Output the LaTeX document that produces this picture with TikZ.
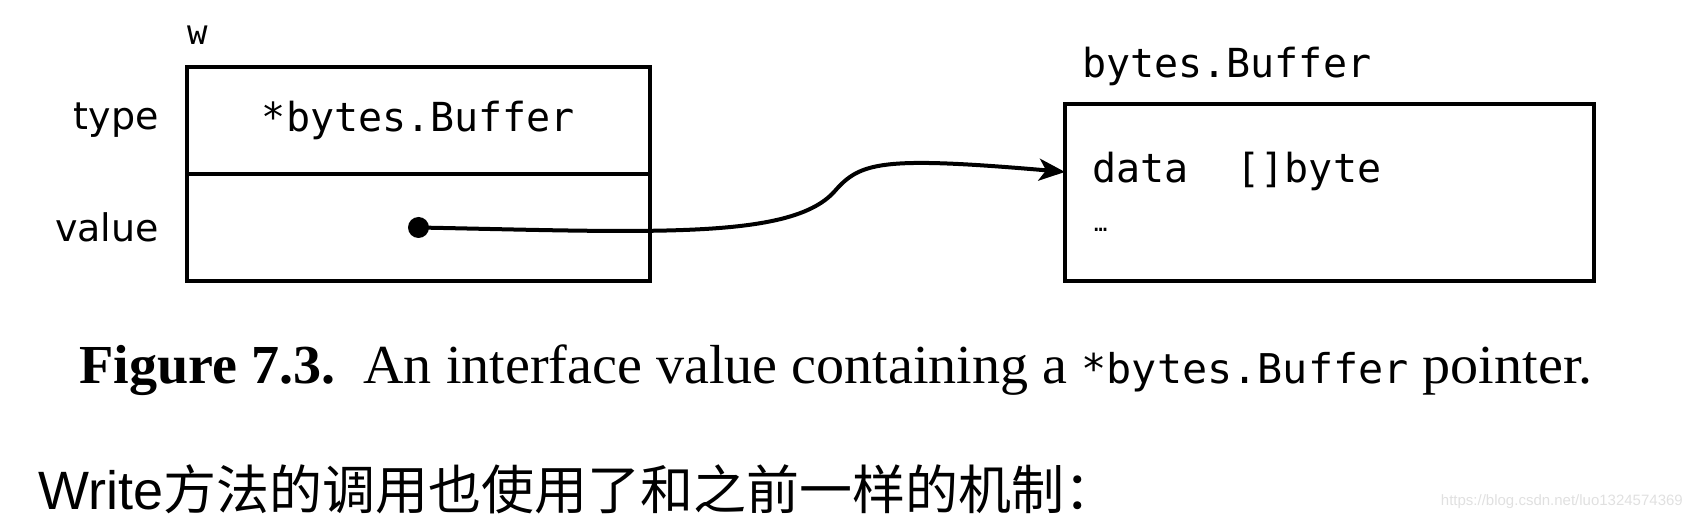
\documentclass[tikz,border=0pt]{standalone}
\usepackage{fontspec}
\setmainfont{Liberation Serif}
\setsansfont{DejaVu Sans}
\setmonofont{DejaVu Sans Mono}
\newfontfamily\cjkfont{Noto Sans CJK SC}
\newfontfamily\plainsans{Liberation Sans}
\usepackage{tikz}
\usetikzlibrary{arrows.meta, positioning, calc}

\begin{document}
\begin{tikzpicture}[
    x=1pt, y=-1pt,
    cell/.style={draw, rectangle, line width=4.5pt, outer sep=0pt, inner sep=0pt,
      minimum width=463pt, minimum height=107pt},
    field/.style={inner sep=0pt, font=\fontsize{40}{48}\selectfont\ttfamily},
    rowlabel/.style={inner sep=0pt, font=\fontsize{38}{46}\selectfont\sffamily},
    pointer/.style={line width=4pt, -{Stealth[length=26pt,width=22pt,inset=7pt]}},
    dot/.style={circle, fill, inner sep=0pt, minimum size=21pt}
]
\useasboundingbox (0,0) rectangle (1692,518);

% interface value w
\node[cell] (typecell) at (418.5,120.5) {\fontsize{40}{48}\selectfont\ttfamily *bytes.Buffer};
\node[cell, below=0pt of typecell] (valuecell) {};
\node[rowlabel, left=28pt of typecell] (typelbl) {type};
\node[rowlabel, left=28pt of valuecell] (valuelbl) {value};
\node[field, font=\fontsize{34}{40}\selectfont\ttfamily, anchor=base west]
  (wname) at ([yshift=22pt]typecell.north west) {w};
\node[dot] (dot) at (valuecell.center) {};

% the pointed-to buffer
\node[cell, minimum width=529pt, minimum height=177pt, anchor=north west] (buf) at (1065,104) {};
\node[field, anchor=base west] (bufname) at ([xshift=17pt,yshift=26pt]buf.north west) {bytes.Buffer};
\node[field, anchor=base west] (datafield) at (1092,183) {data\ \ []byte};
\node[field, anchor=base west] (more) at (1094,232) {\fontsize{22}{26}\selectfont\dots};
\coordinate (target) at (buf.west |- datafield.center);

\draw[pointer] (dot.center) .. controls (650,232) and (790,240) .. (834,192)
  .. controls (860,162) and (880,156) .. (target);

% caption and text below
\node[anchor=base, inner sep=0pt, font=\fontsize{55}{64}\selectfont] (caption) at (836,384)
  {\scalebox{1.02}[1]{\textbf{Figure 7.3.}\ \ An interface value containing a
   {\fontsize{41}{50}\selectfont\ttfamily *bytes.Buffer} pointer.}};
\node[anchor=base west, inner sep=0pt, font=\fontsize{54}{60}\selectfont\plainsans] (remark) at (38,509)
  {Write{\cjkfont\fontsize{53}{60}\selectfont 方法的调用也使用了和之前一样的机制：}};
\node[anchor=base east, inner sep=0pt, text=black!12, font=\fontsize{15}{18}\selectfont\plainsans]
  (mark) at (1683,505) {https://blog.csdn.net/luo1324574369};
\end{tikzpicture}
\end{document}
